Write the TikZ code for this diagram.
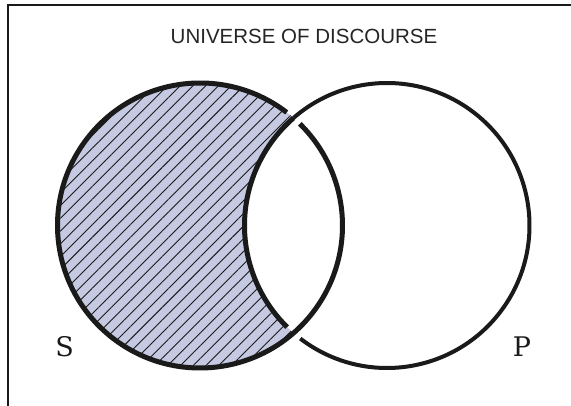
\documentclass[tikz,border=0pt]{standalone}
\usepackage{fontspec}
\setmainfont{DejaVu Serif}
\newfontfamily\titlefont{Liberation Sans}
\usetikzlibrary{patterns.meta}
\definecolor{lav}{RGB}{197,201,225}
\definecolor{ink}{RGB}{26,26,26}
\begin{document}
\begin{tikzpicture}[x=1pt,y=1pt,
  thickarc/.style={draw=ink,line width=5pt},
  thinarc/.style={draw=ink,line width=4pt},
  framestyle/.style={draw=ink,line width=1.8pt},
  lbl/.style={font=\fontsize{27}{27}\selectfont,anchor=base,text=ink,inner sep=0pt},
  ttl/.style={font=\titlefont\fontsize{20.5}{20.5}\selectfont,anchor=base,text=ink!95,inner sep=0pt},
  crescent/.style={fill=lav,postaction={pattern={Lines[angle=45,distance=9pt,line width=0.9pt]},pattern color=ink}}]
\useasboundingbox (0,0) rectangle (571,406);
\fill[white] (0,0) rectangle (571,406);
\coordinate (f1) at (8,0);
\coordinate (f2) at (8,401);
\coordinate (f3) at (571,401);
\draw[framestyle] (f1) -- (f2) -- (f3);
\coordinate (Sc) at (200,180.5);
\coordinate (Pc) at (387,180.5);
% shaded crescent S minus P
\path[crescent] ([shift={(49:142.5)}]Sc) arc[start angle=49,end angle=311,radius=142.5]
   arc[start angle=229,end angle=131,radius=142.5] -- cycle;
% circle S (broken at upper crossing)
\draw[thickarc] ([shift={(52.5:142.5)}]Sc) arc[start angle=52.5,end angle=405.5,radius=142.5];
% circle P (broken at lower crossing)
\draw[thinarc] ([shift={(232.5:142.5)}]Pc) arc[start angle=232.5,end angle=491,radius=142.5];
\draw[thickarc] ([shift={(131:142.5)}]Pc) arc[start angle=131,end angle=225.5,radius=142.5];
\node[ttl] (title) at (304,362) {UNIVERSE OF DISCOURSE};
\node[lbl] (S) at (64.7,49) {S};
\node[lbl] (P) at (522,49) {P};
\end{tikzpicture}
\end{document}
